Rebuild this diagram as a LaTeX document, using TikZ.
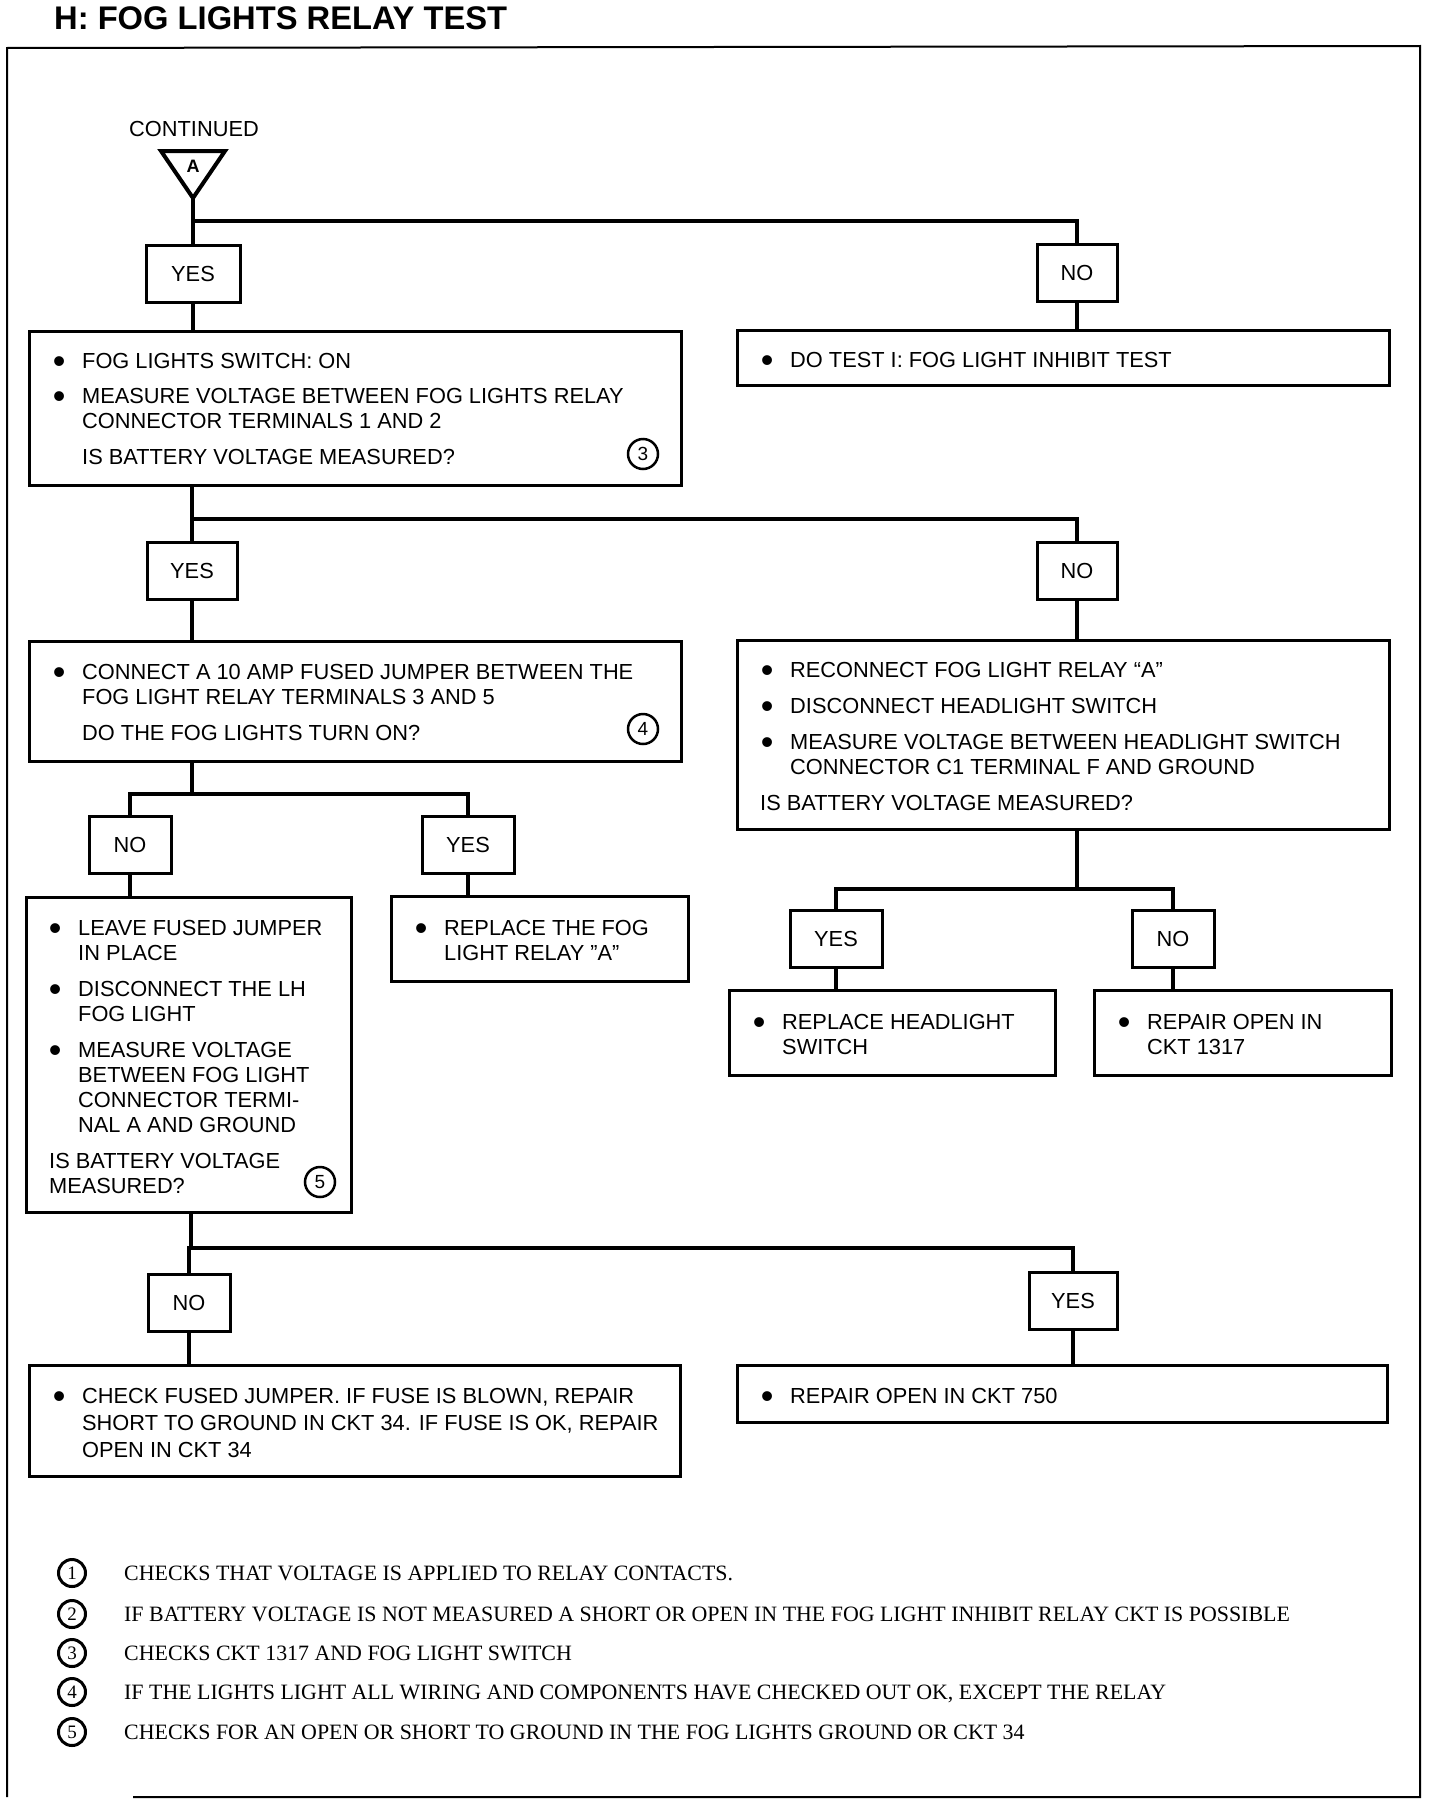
\documentclass[tikz,border=0pt]{standalone}
\usepackage{fontspec}
\setmainfont{Liberation Sans}
\newfontfamily\serifft{Liberation Serif}
\usetikzlibrary{calc}
\newcommand{\bul}{\llap{\makebox[0pt][c]{\raisebox{-5pt}{\fontsize{36}{36}\selectfont\textbullet}}\hspace{23pt}}}
\tikzset{
  box/.style={draw, line width=3pt, rectangle, inner sep=0pt},
  lbl/.style={draw, line width=3pt, rectangle, minimum height=57pt, inner sep=0pt, font=\fontsize{21.8}{25}\selectfont},
  conn/.style={line width=4.5pt},
  txt/.style={anchor=base west, inner sep=0pt, font=\fontsize{21.8}{25}\selectfont},
  circnum/.style={draw, circle, line width=2.5pt, minimum size=30pt, inner sep=0pt, font=\fontsize{19}{19}\selectfont},
  fn/.style={anchor=base west, inner sep=0pt, font=\serifft\fontsize{21.9}{21.9}\selectfont},
  fncirc/.style={draw, circle, line width=3pt, minimum size=27pt, inner sep=0pt, font=\serifft\fontsize{19}{19}\selectfont},
}
\begin{document}
\begin{tikzpicture}[x=1pt,y=-1pt]
\useasboundingbox (0,0) rectangle (1440,1804);
\fill[white] (0,0) rectangle (1440,1804);

% title and frame
\node[anchor=base west, inner sep=0pt, font=\bfseries\fontsize{32.7}{32.7}\selectfont] (title) at (54,29.5) {H: FOG LIGHTS RELAY TEST};
\draw[line width=2pt] (133,1797) -- (1420,1797) -- (1420,46) -- (7,48) -- (7,1797);

% entry
\node[anchor=base, inner sep=0pt, font=\fontsize{21.8}{25}\selectfont] (cont) at (194,136) {CONTINUED};
\draw[line width=4pt, line join=miter] (161,151) -- (225,151) -- (193,198) -- cycle;
\node[inner sep=0pt, font=\bfseries\fontsize{18}{18}\selectfont] (Alab) at (193,166) {A};
\coordinate (tri) at (193,198);

% label boxes
\node[lbl, minimum width=94pt] (yes1) at (193,274) {YES};
\node[lbl, minimum width=80pt] (no1) at (1077,273) {NO};
\node[lbl, minimum width=90pt] (yes2) at (192,571) {YES};
\node[lbl, minimum width=80pt] (no2) at (1077,571) {NO};
\node[lbl, minimum width=82pt] (no3) at (130,845) {NO};
\node[lbl, minimum width=92pt] (yes3) at (468,845) {YES};
\node[lbl, minimum width=92pt] (yes4) at (836,939) {YES};
\node[lbl, minimum width=82pt] (no4) at (1173,939) {NO};
\node[lbl, minimum width=82pt] (no5) at (189,1303) {NO};
\node[lbl, minimum width=88pt] (yes5) at (1073,1301) {YES};

% content boxes
\node[box, minimum width=652pt, minimum height=154pt] (b1) at (355,408) {};
\node[box, minimum width=652pt, minimum height=55pt] (b1n) at (1063,357.5) {};
\node[box, minimum width=652pt, minimum height=120pt] (b2) at (355,701) {};
\node[box, minimum width=652pt, minimum height=189pt] (b3) at (1063,734.5) {};
\node[box, minimum width=325pt, minimum height=315pt] (b4) at (188.5,1054.5) {};
\node[box, minimum width=297pt, minimum height=85pt] (b5) at (539.5,938.5) {};
\node[box, minimum width=326pt, minimum height=85pt] (b6) at (892,1032.5) {};
\node[box, minimum width=297pt, minimum height=85pt] (b7) at (1242.5,1032.5) {};
\node[box, minimum width=651pt, minimum height=111pt] (b8) at (354.5,1420.5) {};
\node[box, minimum width=650pt, minimum height=57pt] (b9) at (1062,1393.5) {};

% texts
\node[txt] (t1) at (82,368) {\begin{tabular}[t]{@{}l@{}}
\bul FOG LIGHTS SWITCH: ON\\[10.5pt]
\bul MEASURE VOLTAGE BETWEEN FOG LIGHTS RELAY\\
CONNECTOR TERMINALS 1 AND 2\\[11pt]
IS BATTERY VOLTAGE MEASURED?\end{tabular}};
\node[txt] (t1n) at (790,367) {\begin{tabular}[t]{@{}l@{}}\bul DO TEST I: FOG LIGHT INHIBIT TEST\end{tabular}};
\node[txt] (t2) at (82,679) {\begin{tabular}[t]{@{}l@{}}
\bul CONNECT A 10 AMP FUSED JUMPER BETWEEN THE\\
FOG LIGHT RELAY TERMINALS 3 AND 5\\[11pt]
DO THE FOG LIGHTS TURN ON?\end{tabular}};
\node[txt] (t3) at (790,677) {\begin{tabular}[t]{@{}l@{}}
\bul RECONNECT FOG LIGHT RELAY “A”\\[11pt]
\bul DISCONNECT HEADLIGHT SWITCH\\[11pt]
\bul MEASURE VOLTAGE BETWEEN HEADLIGHT SWITCH\\
CONNECTOR C1 TERMINAL F AND GROUND\\[11pt]
\hspace*{-30pt}IS BATTERY VOLTAGE MEASURED?\end{tabular}};
\node[txt] (t4) at (78,935) {\begin{tabular}[t]{@{}l@{}}
\bul LEAVE FUSED JUMPER\\
IN PLACE\\[11pt]
\bul DISCONNECT THE LH\\
FOG LIGHT\\[11pt]
\bul MEASURE VOLTAGE\\
BETWEEN FOG LIGHT\\
CONNECTOR TERMI-\\
NAL A AND GROUND\\[11pt]
\hspace*{-29pt}IS BATTERY VOLTAGE\\
\hspace*{-29pt}MEASURED?\end{tabular}};
\node[txt] (t5) at (444,935) {\begin{tabular}[t]{@{}l@{}}
\bul REPLACE THE FOG\\
LIGHT RELAY "A"\end{tabular}};
\node[txt] (t6) at (782,1029) {\begin{tabular}[t]{@{}l@{}}
\bul REPLACE HEADLIGHT\\
SWITCH\end{tabular}};
\node[txt] (t7) at (1147,1029) {\begin{tabular}[t]{@{}l@{}}
\bul REPAIR OPEN IN\\
CKT 1317\end{tabular}};
\node[txt] (t8) at (82,1403) {\begin{tabular}[t]{@{}l@{}}
\bul CHECK FUSED JUMPER. IF FUSE IS BLOWN, REPAIR\\[2pt]
SHORT TO GROUND IN CKT 34. IF FUSE IS OK, REPAIR\\[2pt]
OPEN IN CKT 34\end{tabular}};
\node[txt] (t9) at (790,1403) {\begin{tabular}[t]{@{}l@{}}\bul REPAIR OPEN IN CKT 750\end{tabular}};

% circled references
\node[circnum] (c3) at (643,454) {3};
\node[circnum] (c4) at (643,729) {4};
\node[circnum] (c5) at (320,1182) {5};

% connectors
\coordinate (j1) at (193,221);
\draw[conn] (tri) -- (yes1.north);
\draw[conn] (j1) -| (no1.north);
\draw[conn] (yes1.south) -- (yes1.south |- b1.north);
\draw[conn] (no1.south) -- (no1.south |- b1n.north);

\coordinate (j2) at (192,519);
\draw[conn] (j2 |- b1.south) -- (yes2.north);
\draw[conn] (j2) -| (no2.north);
\draw[conn] (yes2.south) -- (yes2.south |- b2.north);
\draw[conn] (no2.south) -- (no2.south |- b3.north);

\coordinate (j3) at (192,794);
\draw[conn] (j3 |- b2.south) -- (j3);
\draw[conn] (no3.north) |- (j3) -| (yes3.north);
\draw[conn] (no3.south) -- (no3.south |- b4.north);
\draw[conn] (yes3.south) -- (yes3.south |- b5.north);

\coordinate (j4) at (1077,889);
\draw[conn] (j4 |- b3.south) -- (j4);
\draw[conn] (yes4.north) |- (j4) -| (no4.north);
\draw[conn] (yes4.south) -- (yes4.south |- b6.north);
\draw[conn] (no4.south) -- (no4.south |- b7.north);

\coordinate (j5) at (191,1248);
\draw[conn] (j5 |- b4.south) -- (j5);
\draw[conn] (no5.north) |- (j5) -| (yes5.north);
\draw[conn] (no5.south) -- (no5.south |- b8.north);
\draw[conn] (yes5.south) -- (yes5.south |- b9.north);

% footnotes
\node[fncirc] (f1) at (72,1573) {1};
\node[fncirc] (f2) at (72,1614) {2};
\node[fncirc] (f3) at (72,1653) {3};
\node[fncirc] (f4) at (72,1692) {4};
\node[fncirc] (f5) at (72,1732) {5};
\node[fn] (n1) at (124,1580.5) {CHECKS THAT VOLTAGE IS APPLIED TO RELAY CONTACTS.};
\node[fn] (n2) at (124,1621.5) {IF BATTERY VOLTAGE IS NOT MEASURED A SHORT OR OPEN IN THE FOG LIGHT INHIBIT RELAY CKT IS POSSIBLE};
\node[fn] (n3) at (124,1660.5) {CHECKS CKT 1317 AND FOG LIGHT SWITCH};
\node[fn] (n4) at (124,1699.5) {IF THE LIGHTS LIGHT ALL WIRING AND COMPONENTS HAVE CHECKED OUT OK, EXCEPT THE RELAY};
\node[fn] (n5) at (124,1739.5) {CHECKS FOR AN OPEN OR SHORT TO GROUND IN THE FOG LIGHTS GROUND OR CKT 34};
\end{tikzpicture}
\end{document}
